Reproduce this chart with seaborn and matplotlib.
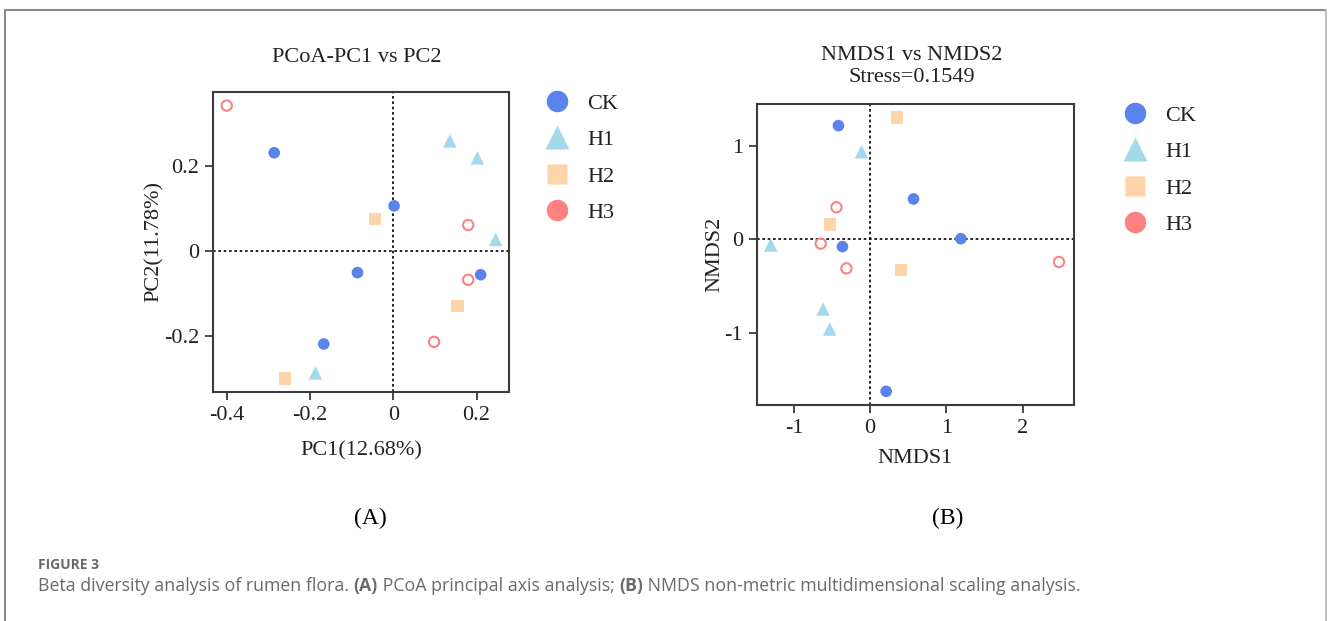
import matplotlib
matplotlib.use("Agg")
import matplotlib.pyplot as plt
from matplotlib.lines import Line2D
import seaborn as sns
import pandas as pd

# ---------------- data ----------------
groups = ["CK", "H1", "H2", "H3"]
colors = ["#5b83ec", "#a4d8ec", "#fdd5a8", "#fc8282"]
markers = ["o", "^", "s", "o"]

# PCoA coordinates
pcoa_ck_x = [-0.286, 0.002, -0.086, 0.210, -0.167]
pcoa_ck_y = [0.231, 0.106, -0.051, -0.056, -0.219]
pcoa_h1_x = [0.136, 0.202, 0.246, -0.187]
pcoa_h1_y = [0.259, 0.219, 0.027, -0.287]
pcoa_h2_x = [-0.044, 0.154, -0.260]
pcoa_h2_y = [0.075, -0.129, -0.300]
pcoa_h3_x = [-0.400, 0.180, 0.180, 0.098]
pcoa_h3_y = [0.342, 0.061, -0.068, -0.214]

# NMDS coordinates
nmds_ck_x = [-0.416, 0.569, 1.190, -0.363, 0.210]
nmds_ck_y = [1.214, 0.431, 0.007, -0.078, -1.623]
nmds_h1_x = [-0.114, -1.304, -0.617, -0.530]
nmds_h1_y = [0.935, -0.060, -0.744, -0.957]
nmds_h2_x = [0.354, -0.530, 0.407]
nmds_h2_y = [1.299, 0.157, -0.327]
nmds_h3_x = [-0.442, -0.648, -0.311, 2.477]
nmds_h3_y = [0.342, -0.046, -0.310, -0.242]

pcoa_xticks = [-0.4, -0.2, 0, 0.2]
pcoa_xticklabels = ["-0.4", "-0.2", "0", "0.2"]
pcoa_yticks = [-0.2, 0, 0.2]
pcoa_yticklabels = ["-0.2", "0", "0.2"]
nmds_xticks = [-1, 0, 1, 2]
nmds_xticklabels = ["-1", "0", "1", "2"]
nmds_yticks = [-1, 0, 1]
nmds_yticklabels = ["-1", "0", "1"]

def build(xs, ys):
    rows = []
    for g, x, y in zip(groups, xs, ys):
        for a, b in zip(x, y):
            rows.append({"group": g, "x": a, "y": b})
    return pd.DataFrame(rows)

pcoa = build([pcoa_ck_x, pcoa_h1_x, pcoa_h2_x, pcoa_h3_x],
             [pcoa_ck_y, pcoa_h1_y, pcoa_h2_y, pcoa_h3_y])
nmds = build([nmds_ck_x, nmds_h1_x, nmds_h2_x, nmds_h3_x],
             [nmds_ck_y, nmds_h1_y, nmds_h2_y, nmds_h3_y])

# ---------------- style ----------------
sns.set_theme(style="ticks")
plt.rcParams["font.family"] = ["Liberation Serif", "DejaVu Serif"]
plt.rcParams["axes.unicode_minus"] = False
TXT = "#222222"
SP = "#3c3c3c"
FS = 16

W, H = 1330, 621
fig = plt.figure(figsize=(W / 100, H / 100), dpi=100)

def fx(px):
    return px / W

def fy(py):
    return 1 - py / H

ax1 = fig.add_axes([fx(213), fy(392), fx(509) - fx(213), fy(92) - fy(392)])
ax2 = fig.add_axes([fx(757), fy(405), fx(1074) - fx(757), fy(104) - fy(405)])

sizes = {"CK": 70, "H1": 95, "H2": 80, "H3": 55}

def draw(ax, df):
    for g, c, m in zip(groups, colors, markers):
        d = df[df["group"] == g]
        if g == "H3":
            sns.scatterplot(data=d, x="x", y="y", ax=ax, marker=m, s=sizes[g],
                            facecolor="none", edgecolor=c, linewidth=1.5,
                            legend=False, zorder=3)
        else:
            sns.scatterplot(data=d, x="x", y="y", ax=ax, marker=m, s=sizes[g],
                            color=c, edgecolor="none", linewidth=0,
                            legend=False, zorder=3)
    ax.axhline(0, color="black", lw=1.2, ls=(0, (1.6, 1.6)), zorder=1)
    ax.axvline(0, color="black", lw=1.2, ls=(0, (1.6, 1.6)), zorder=1)
    for s in ax.spines.values():
        s.set_visible(True)
        s.set_color(SP)
        s.set_linewidth(1.5)
    ax.tick_params(direction="out", length=6, width=1.3, color=SP,
                   labelsize=FS, labelcolor=TXT, pad=4)
    ax.set_facecolor("white")

draw(ax1, pcoa)
ax1.set_xlim(-0.433, 0.278)
ax1.set_ylim(-0.332, 0.374)
ax1.set_xticks(pcoa_xticks)
ax1.set_xticklabels(pcoa_xticklabels)
ax1.set_yticks(pcoa_yticks)
ax1.set_yticklabels(pcoa_yticklabels)
ax1.set_xlabel("PC1(12.68%)", fontsize=FS, color=TXT, labelpad=12)
ax1.set_ylabel("PC2(11.78%)", fontsize=FS, color=TXT, labelpad=0)

draw(ax2, nmds)
ax2.set_xlim(-1.484, 2.674)
ax2.set_ylim(-1.769, 1.445)
ax2.set_xticks(nmds_xticks)
ax2.set_xticklabels(nmds_xticklabels)
ax2.set_yticks(nmds_yticks)
ax2.set_yticklabels(nmds_yticklabels)
ax2.set_xlabel("NMDS1", fontsize=FS, color=TXT, labelpad=8)
ax2.set_ylabel("NMDS2", fontsize=FS, color=TXT, labelpad=0)

# titles
fig.text(fx(357), fy(58), "PCoA-PC1 vs PC2", ha="center", va="center",
         fontsize=FS, color=TXT)
fig.text(fx(912), fy(55), "NMDS1 vs NMDS2", ha="center", va="center",
         fontsize=FS, color=TXT)
fig.text(fx(912), fy(77), "Stress=0.1549", ha="center", va="center",
         fontsize=FS, color=TXT)

# legends
lsizes = {"CK": 15.5, "H1": 17, "H2": 15, "H3": 15.5}
handles = [Line2D([], [], ls="none", marker=m, color=c, markeredgecolor="none",
                  markersize=lsizes[g]) for g, c, m in zip(groups, colors, markers)]
for x0, y0 in [(546, 93), (1124, 105)]:
    fig.legend(handles, groups, loc="upper left", bbox_to_anchor=(fx(x0), fy(y0)),
               frameon=False, fontsize=FS, labelcolor=TXT, borderpad=0,
               borderaxespad=0, handlelength=1.0, handletextpad=0.85,
               labelspacing=0.72)

# panel labels
fig.text(fx(370), fy(518), "(A)", ha="center", va="center", fontsize=17, color="black")
fig.text(fx(948), fy(518), "(B)", ha="center", va="center", fontsize=17, color="black")

# frame lines
fig.add_artist(Line2D([fx(4.5), fx(4.5)], [0, fy(9.5)], color="#8a8a8a", lw=1.5))
fig.add_artist(Line2D([fx(4.5), fx(1326)], [fy(9.5), fy(9.5)], color="#8a8a8a", lw=1.5))
fig.add_artist(Line2D([fx(1326), fx(1326)], [0, fy(9.5)], color="#c0c0c0", lw=1.5))

# caption
CAP = ["Open Sans", "DejaVu Sans"]
fig.text(fx(38), fy(565), "FIGURE 3", ha="left", va="center", fontsize=10,
         color="#6a6a6a", family=CAP, weight="bold")
pieces = [("Beta diversity analysis of rumen flora. ", "normal"),
          ("(A)", "bold"),
          (" PCoA principal axis analysis; ", "normal"),
          ("(B)", "bold"),
          (" NMDS non-metric multidimensional scaling analysis.", "normal")]
fig.canvas.draw()
r = fig.canvas.get_renderer()
xpos = 38
for txt, w in pieces:
    t = fig.text(fx(xpos), fy(586), txt, ha="left", va="center", fontsize=12.8,
                 color="#6a6a6a", family=CAP, weight=w)
    bb = t.get_window_extent(renderer=r)
    xpos += bb.width

fig.savefig("out.png", dpi=100, facecolor="white")
